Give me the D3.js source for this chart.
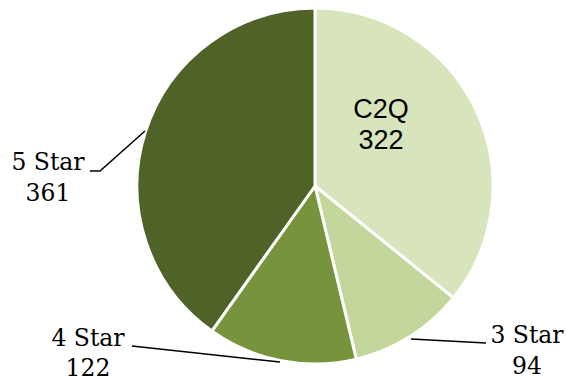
<!DOCTYPE html>
<html><head><meta charset="utf-8">
<script src="https://cdn.jsdelivr.net/npm/d3@7/dist/d3.min.js"></script>
<style>body{margin:0;background:#fff}</style>
</head><body>
<svg id="c" width="566" height="382"></svg>
<script>
const categories = ["C2Q", "3 Star", "4 Star", "5 Star"];
const values = [322, 94, 122, 361];
const colors = ["#d8e4bc", "#c3d69b", "#77933c", "#4f6228"];

const svg = d3.select("#c");
const cx = 315, cy = 186, r = 178;
const g = svg.append("g").attr("transform", `translate(${cx},${cy})`);
const pie = d3.pie().sort(null).value(d => d.v);
const data = pie(categories.map((c, i) => ({c, v: values[i], col: colors[i]})));
const arc = d3.arc().innerRadius(0).outerRadius(r);
g.selectAll("path").data(data).enter().append("path")
  .attr("d", arc).attr("fill", d => d.data.col)
  .attr("stroke", "#fff").attr("stroke-width", 3).attr("stroke-linejoin", "round");

// leader lines
const leaders = [
  null,
  [[411, 339], [486, 343]],
  [[280, 362], [132, 346]],
  [[145, 131], [100, 171], [90, 171]]
];
leaders.forEach(l => {
  if (!l) return;
  svg.append("path").attr("d", d3.line()(l)).attr("fill", "none")
    .attr("stroke", "#000").attr("stroke-width", 1.5);
});

// labels
const labelPos = [
  {x: 381, y1: 118, y2: 149, size: 27, font: "'Liberation Sans', Arial, sans-serif"},
  {x: 527, y1: 343, y2: 374, size: 23.5, font: "'DejaVu Serif', serif"},
  {x: 88, y1: 346, y2: 376, size: 23.5, font: "'DejaVu Serif', serif"},
  {x: 48, y1: 170, y2: 201, size: 23.5, font: "'DejaVu Serif', serif"}
];
data.forEach((d, i) => {
  const p = labelPos[i];
  const t = svg.append("text").attr("text-anchor", "middle")
    .attr("font-family", p.font).attr("font-size", p.size).attr("fill", "#000");
  t.append("tspan").attr("x", p.x).attr("y", p.y1).text(d.data.c);
  t.append("tspan").attr("x", p.x).attr("y", p.y2).text(d.data.v);
});
</script>
</body></html>
